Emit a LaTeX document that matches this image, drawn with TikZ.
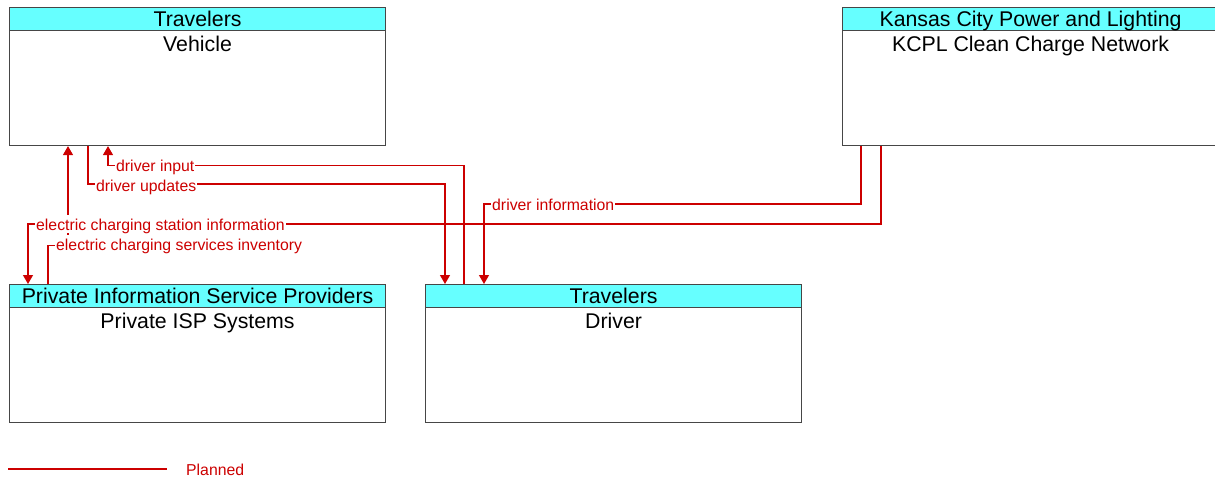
\documentclass[tikz,border=0pt]{standalone}
\usepackage{fontspec}
\setmainfont{Liberation Sans}
\usetikzlibrary{arrows.meta,calc}
\definecolor{flow}{RGB}{204,0,0}
\definecolor{hdr}{RGB}{102,255,255}
\definecolor{bord}{RGB}{70,70,70}
\begin{document}
\begin{tikzpicture}[x=1pt,y=-1pt,
 box/.style={draw=bord,line width=1.1pt,minimum width=376pt,minimum height=138pt,anchor=north west,inner sep=0pt},
 hdrbox/.style={draw=bord,fill=hdr,line width=1.1pt,minimum width=376pt,minimum height=23pt,anchor=north,inner sep=0pt,text height=15pt,text depth=0pt,font=\fontsize{21.3}{24}\selectfont},
 title/.style={anchor=base,inner sep=0pt,font=\fontsize{21.3}{24}\selectfont},
 flowline/.style={draw=flow,line width=1.2pt},
 arr/.style={-{Triangle[width=10pt,length=9pt]}},
 lbl/.style={anchor=west,fill=white,text=flow,inner xsep=1pt,inner ysep=3pt,text height=12pt,text depth=0pt,font=\fontsize{15.8}{18}\selectfont}
]
\useasboundingbox (0,0) rectangle (1215,480);
% boxes
\node[box] (veh) at (9,7) {};
\node[hdrbox] (vehH) at (veh.north) {Travelers};
\node[title] (vehT) at ([yshift=-20pt]vehH.south) {Vehicle};

\node[box] (kc) at (842,7) {};
\node[hdrbox] (kcH) at (kc.north) {Kansas City Power and Lighting};
\node[title] (kcT) at ([yshift=-20pt]kcH.south) {KCPL Clean Charge Network};

\node[box] (isp) at (9,284) {};
\node[hdrbox] (ispH) at (isp.north) {Private Information Service Providers};
\node[title] (ispT) at ([yshift=-20pt]ispH.south) {Private ISP Systems};

\node[box] (drv) at (425,284) {};
\node[hdrbox] (drvH) at (drv.north) {Travelers};
\node[title] (drvT) at ([yshift=-20pt]drvH.south) {Driver};

% connectors
\draw[flowline,arr] ([xshift=39pt]drv.north west) |- ([xshift=99pt,yshift=-19pt]veh.south west) -- ([xshift=99pt]veh.south west);
\draw[flowline,arr] ([xshift=79pt]veh.south west) |- ([xshift=20pt,yshift=100pt]drv.north west) -- ([xshift=20pt]drv.north west);
\draw[flowline,arr] ([xshift=39pt]kc.south west) |- ([xshift=19pt,yshift=60pt]isp.north west) -- ([xshift=19pt]isp.north west);
\draw[flowline,arr] ([xshift=39pt]isp.north west) |- ([xshift=59pt,yshift=-99pt]veh.south west) -- ([xshift=59pt]veh.south west);
\draw[flowline,arr] ([xshift=19pt]kc.south west) |- ([xshift=59pt,yshift=80pt]drv.north west) -- ([xshift=59pt]drv.north west);

% labels
\node[lbl] (l1) at ([xshift=106pt,yshift=-19pt]veh.south west) {driver input};
\node[lbl] (l2) at ([xshift=86pt,yshift=-39pt]veh.south west) {driver updates};
\node[lbl] (l3) at ([xshift=26pt,yshift=60pt]isp.north west) {electric charging station information};
\node[lbl] (l4) at ([xshift=46pt,yshift=40pt]isp.north west) {electric charging services inventory};
\node[lbl] (l5) at ([xshift=66pt,yshift=80pt]drv.north west) {driver information};

% legend
\coordinate (legA) at (8,469);
\coordinate (legB) at (167,469);
\draw[flowline] (legA) -- (legB);
\node[anchor=west,inner sep=0pt,text=flow,text height=12pt,text depth=0pt,font=\fontsize{15.8}{18}\selectfont] (legT) at (186,469) {Planned};
\end{tikzpicture}
\end{document}
